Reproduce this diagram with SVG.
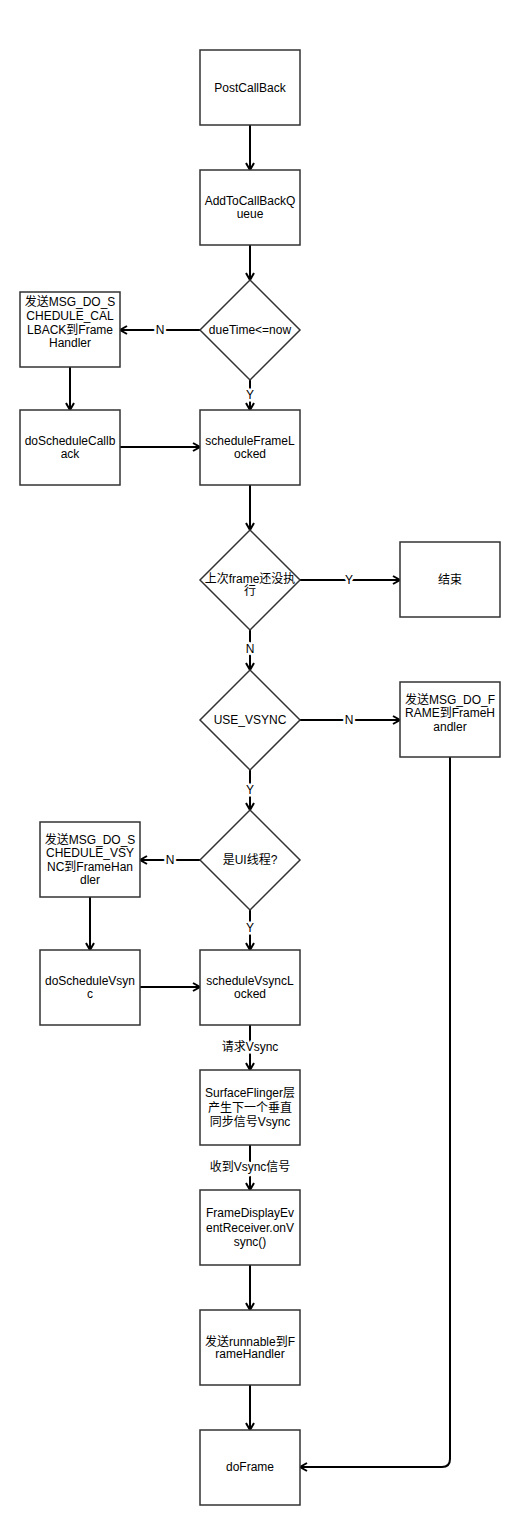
<svg xmlns="http://www.w3.org/2000/svg" width="520" height="1525" viewBox="0 0 520 1525">
<style>
.box{fill:#fff;stroke:#333;stroke-width:1.5}
.t{font-family:"Liberation Sans","Noto Sans CJK SC",sans-serif;font-size:12px;fill:#000;text-anchor:middle}
.e{fill:none;stroke:#000;stroke-width:2;marker-end:url(#arr)}
.lbl{font-family:"Liberation Sans","Noto Sans CJK SC",sans-serif;font-size:12px;fill:#000;text-anchor:middle;stroke:#fff;stroke-width:5;paint-order:stroke;stroke-linejoin:round}
</style>
<defs>
<marker id="arr" markerUnits="userSpaceOnUse" markerWidth="12" markerHeight="12" refX="9" refY="6" orient="auto">
<path d="M2,2 L9,6 L2,10" fill="none" stroke="#000" stroke-width="2"/>
</marker>
</defs>
<rect width="520" height="1525" fill="#fff"/>
<g id="connectors">
<path class="e" d="M250,125 V170"/>
<path class="e" d="M250,245 V280"/>
<path class="e" d="M200,330 H120"/>
<path class="e" d="M250,380 V410"/>
<path class="e" d="M70,367 V410"/>
<path class="e" d="M120,447 H200"/>
<path class="e" d="M250,485 V530"/>
<path class="e" d="M300,580 H400"/>
<path class="e" d="M250,630 V670"/>
<path class="e" d="M300,720 H400"/>
<path class="e" d="M250,770 V810"/>
<path class="e" d="M200,860 H140"/>
<path class="e" d="M250,910 V950"/>
<path class="e" d="M90,897 V950"/>
<path class="e" d="M140,987 H200"/>
<path class="e" d="M250,1025 V1070"/>
<path class="e" d="M250,1145 V1190"/>
<path class="e" d="M250,1265 V1310"/>
<path class="e" d="M250,1385 V1430"/>
<path class="e" d="M450,757 V1459 Q450,1467 442,1467 H300"/>
<text class="lbl" x="160" y="334">N</text>
<text class="lbl" x="250" y="399">Y</text>
<text class="lbl" x="349" y="584">Y</text>
<text class="lbl" x="250" y="653">N</text>
<text class="lbl" x="349" y="724">N</text>
<text class="lbl" x="250" y="794">Y</text>
<text class="lbl" x="170" y="864">N</text>
<text class="lbl" x="250" y="932">Y</text>
<text class="lbl" x="250" y="1051">请求Vsync</text>
<text class="lbl" x="250" y="1171">收到Vsync信号</text>
</g>
<g id="postCallBack">
<rect class="box" x="200" y="50" width="100" height="75"/>
<text class="t" x="250" y="92">PostCallBack</text>
</g>
<g id="addToCallBackQueue">
<rect class="box" x="200" y="170" width="100" height="75"/>
<text class="t" x="250" y="205">AddToCallBackQ</text>
<text class="t" x="250" y="218">ueue</text>
</g>
<g id="dueTime">
<path class="box" d="M250,280 L300,330 L250,380 L200,330 Z"/>
<text class="t" x="250" y="334">dueTime&lt;=now</text>
</g>
<g id="sendScheduleCallback">
<rect class="box" x="20" y="292" width="100" height="75"/>
<text class="t" x="70" y="306">发送MSG_DO_S</text>
<text class="t" x="70" y="320">CHEDULE_CAL</text>
<text class="t" x="70" y="334">LBACK到Frame</text>
<text class="t" x="70" y="347">Handler</text>
</g>
<g id="doScheduleCallback">
<rect class="box" x="20" y="410" width="100" height="75"/>
<text class="t" x="70" y="445">doScheduleCallb</text>
<text class="t" x="70" y="458">ack</text>
</g>
<g id="scheduleFrameLocked">
<rect class="box" x="200" y="410" width="100" height="75"/>
<text class="t" x="250" y="445">scheduleFrameL</text>
<text class="t" x="250" y="458">ocked</text>
</g>
<g id="lastFrame">
<path class="box" d="M250,530 L300,580 L250,630 L200,580 Z"/>
<text class="t" x="250" y="583">上次frame还没执</text>
<text class="t" x="250" y="595">行</text>
</g>
<g id="end">
<rect class="box" x="400" y="542" width="100" height="75"/>
<text class="t" x="450" y="584">结束</text>
</g>
<g id="useVsync">
<path class="box" d="M250,670 L300,720 L250,770 L200,720 Z"/>
<text class="t" x="250" y="724">USE_VSYNC</text>
</g>
<g id="sendDoFrame">
<rect class="box" x="400" y="682" width="100" height="75"/>
<text class="t" x="450" y="704">发送MSG_DO_F</text>
<text class="t" x="450" y="717">RAME到FrameH</text>
<text class="t" x="450" y="731">andler</text>
</g>
<g id="isUiThread">
<path class="box" d="M250,810 L300,860 L250,910 L200,860 Z"/>
<text class="t" x="250" y="864">是UI线程?</text>
</g>
<g id="sendScheduleVsync">
<rect class="box" x="40" y="822" width="100" height="75"/>
<text class="t" x="90" y="844">发送MSG_DO_S</text>
<text class="t" x="90" y="857">CHEDULE_VSY</text>
<text class="t" x="90" y="871">NC到FrameHan</text>
<text class="t" x="90" y="884">dler</text>
</g>
<g id="doScheduleVsync">
<rect class="box" x="40" y="950" width="100" height="75"/>
<text class="t" x="90" y="985">doScheduleVsyn</text>
<text class="t" x="90" y="998">c</text>
</g>
<g id="scheduleVsyncLocked">
<rect class="box" x="200" y="950" width="100" height="75"/>
<text class="t" x="250" y="985">scheduleVsyncL</text>
<text class="t" x="250" y="998">ocked</text>
</g>
<g id="surfaceFlinger">
<rect class="box" x="200" y="1070" width="100" height="75"/>
<text class="t" x="250" y="1097">SurfaceFlinger层</text>
<text class="t" x="250" y="1112">产生下一个垂直</text>
<text class="t" x="250" y="1126">同步信号Vsync</text>
</g>
<g id="frameDisplayEventReceiver">
<rect class="box" x="200" y="1190" width="100" height="75"/>
<text class="t" x="250" y="1217">FrameDisplayEv</text>
<text class="t" x="250" y="1232">entReceiver.onV</text>
<text class="t" x="250" y="1246">sync()</text>
</g>
<g id="sendRunnable">
<rect class="box" x="200" y="1310" width="100" height="75"/>
<text class="t" x="250" y="1346">发送runnable到F</text>
<text class="t" x="250" y="1358">rameHandler</text>
</g>
<g id="doFrame">
<rect class="box" x="200" y="1430" width="100" height="75"/>
<text class="t" x="250" y="1471">doFrame</text>
</g>
</svg>
